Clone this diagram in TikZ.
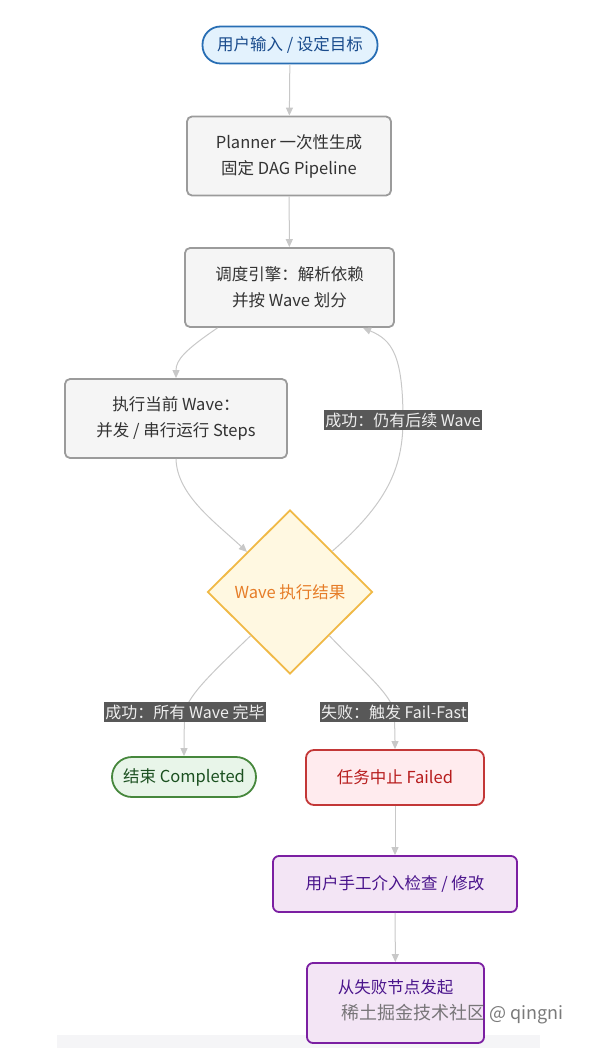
\documentclass[tikz,border=0pt]{standalone}
\usepackage{fontspec}
\setmainfont{Noto Sans CJK SC}
\usetikzlibrary{shapes.geometric,arrows.meta}
\definecolor{edgecol}{RGB}{200,200,200}
\definecolor{lblbg}{RGB}{88,88,88}
\definecolor{lbltx}{RGB}{238,238,238}
\definecolor{startfill}{RGB}{227,242,253}
\definecolor{startdraw}{RGB}{40,110,180}
\definecolor{starttext}{RGB}{25,75,140}
\definecolor{grayfill}{RGB}{245,245,245}
\definecolor{graydraw}{RGB}{155,155,155}
\definecolor{graytext}{RGB}{51,51,51}
\definecolor{decfill}{RGB}{255,248,225}
\definecolor{decdraw}{RGB}{240,185,70}
\definecolor{dectext}{RGB}{230,125,40}
\definecolor{okfill}{RGB}{232,245,233}
\definecolor{okdraw}{RGB}{70,135,60}
\definecolor{oktext}{RGB}{27,80,32}
\definecolor{failfill}{RGB}{255,235,238}
\definecolor{faildraw}{RGB}{195,55,55}
\definecolor{failtext}{RGB}{183,28,28}
\definecolor{purpfill}{RGB}{243,229,245}
\definecolor{purpdraw}{RGB}{123,31,162}
\definecolor{purptext}{RGB}{74,20,140}
\definecolor{bandcol}{RGB}{245,245,247}
\tikzset{
  base/.style={inner sep=0pt, line width=1.8pt, align=center, font=\fontsize{16.5}{26}\selectfont},
  graybox/.style={base, rectangle, rounded corners=5pt, fill=grayfill, draw=graydraw, text=graytext},
  startbox/.style={base, rectangle, rounded corners=18pt, fill=startfill, draw=startdraw, text=starttext},
  decbox/.style={base, diamond, fill=decfill, draw=decdraw, text=dectext},
  okbox/.style={base, rectangle, rounded corners=20pt, fill=okfill, draw=okdraw, text=oktext},
  failbox/.style={base, rectangle, rounded corners=8pt, fill=failfill, draw=faildraw, text=failtext},
  purpbox/.style={base, rectangle, rounded corners=6pt, fill=purpfill, draw=purpdraw, text=purptext},
  edge/.style={draw=edgecol, line width=1pt, -{Triangle[length=8pt,width=7pt]}},
  elabel/.style={fill=lblbg, text=lbltx, inner xsep=1pt, inner ysep=3pt, font=\fontsize{16}{18}\selectfont},
}
\begin{document}
\begin{tikzpicture}[x=1pt,y=1pt]
\useasboundingbox (0,0) rectangle (590,-1048);
\fill[bandcol] (57,-1035) rectangle (540,-1048);

\node[startbox, minimum width=175pt, minimum height=37pt] (start) at (290,-45) {用户输入 / 设定目标};
\node[graybox, minimum width=204pt, minimum height=79pt] (plan) at (289,-156) {Planner 一次性生成\\固定 DAG Pipeline};
\node[graybox, minimum width=209pt, minimum height=79pt] (sched) at (289.5,-287.5) {调度引擎：解析依赖\\并按 Wave 划分};
\node[graybox, minimum width=222pt, minimum height=79pt] (exec) at (176,-418.5) {执行当前 Wave：\\并发 / 串行运行 Steps};
\node[decbox, minimum width=165pt, minimum height=164pt] (dec) at (290,-592) {Wave 执行结果};
\node[okbox, minimum width=144pt, minimum height=40pt] (done) at (184,-777) {结束 Completed};
\node[failbox, minimum width=178pt, minimum height=55pt] (fail) at (395,-777.5) {任务中止 Failed};
\node[purpbox, minimum width=244pt, minimum height=56pt] (manual) at (395,-884) {用户手工介入检查 / 修改};
\node[purpbox, minimum width=177pt, minimum height=80pt] (resume) at (395.5,-1003) {从失败节点发起\\\strut};

\draw[edge] (start) -- (plan);
\draw[edge] (plan) -- (sched);
\draw[edge] ([xshift=-72pt]sched.south) .. controls (185,-350) and (176,-360) .. (exec.north);
\draw[edge] (exec.south) .. controls (177,-495) and (215,-522) .. (dec.137);
\draw[edge] (dec.44) .. controls (385,-505) and (403,-470) .. node[elabel, pos=1] (l1) {成功：仍有后续 Wave} (403,-420) .. controls (403,-355) and (392,-340) .. ([xshift=73.5pt]sched.south);
\draw[edge] (dec.228) .. controls (215,-670) and (188,-695) .. node[elabel, pos=1] (l2) {成功：所有 Wave 完毕} (185,-712) .. controls (184,-730) and (184,-740) .. (done.north);
\draw[edge] (dec.312) .. controls (362,-670) and (392,-695) .. node[elabel, pos=1] (l3) {失败：触发 Fail-Fast} (394,-712) .. controls (395,-730) and (395,-740) .. (fail.north);
\draw[edge] (fail) -- (manual);
\draw[edge] (manual) -- (resume);

\node[text=black!65, opacity=0.8, anchor=west, font=\fontsize{18}{20}\selectfont] (wm) at (338,-1014) {稀土掘金技术社区 @ qingni};
\end{tikzpicture}
\end{document}
